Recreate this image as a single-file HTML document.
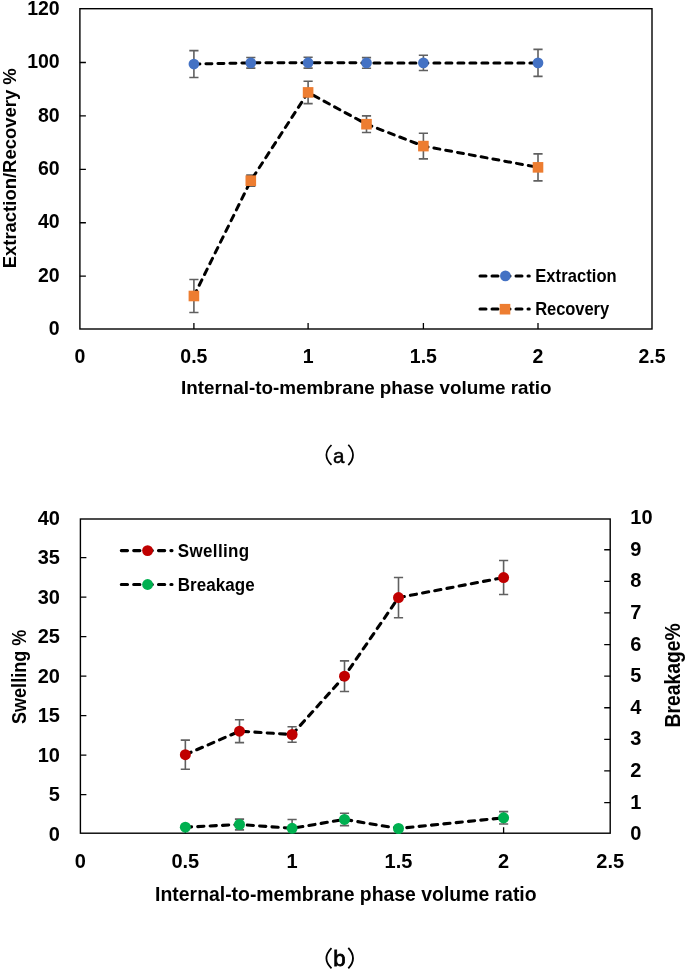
<!DOCTYPE html>
<html><head><meta charset="utf-8"><style>
html,body{margin:0;padding:0;background:#fff;}
svg{display:block;font-family:"Liberation Sans", sans-serif;will-change:transform;}
</style></head><body>
<svg width="685" height="969" viewBox="0 0 685 969">
<rect width="685" height="969" fill="#fff"/>
<rect x="79.9" y="8.7" width="572.1" height="320.3" fill="none" stroke="#000000" stroke-width="1.4"/>
<path d="M79.9,276.18 h6 M79.9,222.76 h6 M79.9,169.34 h6 M79.9,115.92 h6 M79.9,62.50 h6 M193.90,329.0 v-6 M308.10,329.0 v-6 M423.40,329.0 v-6 M538.00,329.0 v-6 " stroke="#000000" stroke-width="1.3" fill="none"/>
<text transform="translate(59.70,335.20)" font-size="19.5" font-weight="bold" text-anchor="end" fill="#000" >0</text>
<text transform="translate(59.70,281.78)" font-size="19.5" font-weight="bold" text-anchor="end" fill="#000" >20</text>
<text transform="translate(59.70,228.36)" font-size="19.5" font-weight="bold" text-anchor="end" fill="#000" >40</text>
<text transform="translate(59.70,174.94)" font-size="19.5" font-weight="bold" text-anchor="end" fill="#000" >60</text>
<text transform="translate(59.70,121.52)" font-size="19.5" font-weight="bold" text-anchor="end" fill="#000" >80</text>
<text transform="translate(59.70,68.10)" font-size="19.5" font-weight="bold" text-anchor="end" fill="#000" >100</text>
<text transform="translate(59.70,14.68)" font-size="19.5" font-weight="bold" text-anchor="end" fill="#000" >120</text>
<text transform="translate(79.90,363.20)" font-size="19.5" font-weight="bold" text-anchor="middle" fill="#000" >0</text>
<text transform="translate(193.90,363.20)" font-size="19.5" font-weight="bold" text-anchor="middle" fill="#000" >0.5</text>
<text transform="translate(308.10,363.20)" font-size="19.5" font-weight="bold" text-anchor="middle" fill="#000" >1</text>
<text transform="translate(423.40,363.20)" font-size="19.5" font-weight="bold" text-anchor="middle" fill="#000" >1.5</text>
<text transform="translate(538.00,363.20)" font-size="19.5" font-weight="bold" text-anchor="middle" fill="#000" >2</text>
<text transform="translate(652.00,363.20)" font-size="19.5" font-weight="bold" text-anchor="middle" fill="#000" >2.5</text>
<text transform="translate(181.00,394.30)" font-size="19" font-weight="bold" text-anchor="start" fill="#000" textLength="370.5" lengthAdjust="spacingAndGlyphs" >Internal-to-membrane phase volume ratio</text>
<text transform="translate(15.70,268.30) rotate(-90)" font-size="19" font-weight="bold" text-anchor="start" fill="#000" textLength="200" lengthAdjust="spacingAndGlyphs" >Extraction/Recovery %</text>
<path d="M193.90,50.60 V77.50 M189.30,50.60 h9.2 M189.30,77.50 h9.2" stroke="#606060" stroke-width="1.6" fill="none"/>
<path d="M250.80,57.55 V68.15 M246.20,57.55 h9.2 M246.20,68.15 h9.2" stroke="#606060" stroke-width="1.6" fill="none"/>
<path d="M308.10,57.30 V68.10 M303.50,57.30 h9.2 M303.50,68.10 h9.2" stroke="#606060" stroke-width="1.6" fill="none"/>
<path d="M366.50,57.60 V68.20 M361.90,57.60 h9.2 M361.90,68.20 h9.2" stroke="#606060" stroke-width="1.6" fill="none"/>
<path d="M423.40,55.30 V70.50 M418.80,55.30 h9.2 M418.80,70.50 h9.2" stroke="#606060" stroke-width="1.6" fill="none"/>
<path d="M538.00,49.40 V76.40 M533.40,49.40 h9.2 M533.40,76.40 h9.2" stroke="#606060" stroke-width="1.6" fill="none"/>
<path d="M193.90,279.50 V312.50 M189.30,279.50 h9.2 M189.30,312.50 h9.2" stroke="#606060" stroke-width="1.6" fill="none"/>
<path d="M250.80,175.10 V186.30 M246.20,175.10 h9.2 M246.20,186.30 h9.2" stroke="#606060" stroke-width="1.6" fill="none"/>
<path d="M308.10,81.20 V103.60 M303.50,81.20 h9.2 M303.50,103.60 h9.2" stroke="#606060" stroke-width="1.6" fill="none"/>
<path d="M366.50,115.90 V132.50 M361.90,115.90 h9.2 M361.90,132.50 h9.2" stroke="#606060" stroke-width="1.6" fill="none"/>
<path d="M423.40,133.30 V158.90 M418.80,133.30 h9.2 M418.80,158.90 h9.2" stroke="#606060" stroke-width="1.6" fill="none"/>
<path d="M538.00,153.85 V180.85 M533.40,153.85 h9.2 M533.40,180.85 h9.2" stroke="#606060" stroke-width="1.6" fill="none"/>
<path d="M193.90,64.05 L250.80,62.85 L308.10,62.70 L366.50,62.90 L423.40,62.90 L538.00,62.90" fill="none" stroke="#000" stroke-width="3" stroke-linecap="round" stroke-linejoin="round" stroke-dasharray="6 6"/>
<path d="M193.90,296.00 L250.80,180.70 L308.10,92.40 L366.50,124.20 L423.40,146.10 L538.00,167.35" fill="none" stroke="#000" stroke-width="3" stroke-linecap="round" stroke-linejoin="round" stroke-dasharray="6 6"/>
<circle cx="193.90" cy="64.05" r="5.35" fill="#4472C4"/>
<circle cx="250.80" cy="62.85" r="5.35" fill="#4472C4"/>
<circle cx="308.10" cy="62.70" r="5.35" fill="#4472C4"/>
<circle cx="366.50" cy="62.90" r="5.35" fill="#4472C4"/>
<circle cx="423.40" cy="62.90" r="5.35" fill="#4472C4"/>
<circle cx="538.00" cy="62.90" r="5.35" fill="#4472C4"/>
<rect x="188.60" y="290.70" width="10.6" height="10.6" fill="#ED7D31"/>
<rect x="245.50" y="175.40" width="10.6" height="10.6" fill="#ED7D31"/>
<rect x="302.80" y="87.10" width="10.6" height="10.6" fill="#ED7D31"/>
<rect x="361.20" y="118.90" width="10.6" height="10.6" fill="#ED7D31"/>
<rect x="418.10" y="140.80" width="10.6" height="10.6" fill="#ED7D31"/>
<rect x="532.70" y="162.05" width="10.6" height="10.6" fill="#ED7D31"/>
<path d="M480.00,275.90 L529.30,275.90" fill="none" stroke="#000" stroke-width="3" stroke-linecap="round" stroke-linejoin="round" stroke-dasharray="6 6"/>
<circle cx="505.40" cy="275.90" r="5.35" fill="#4472C4"/>
<path d="M480.00,309.00 L529.30,309.00" fill="none" stroke="#000" stroke-width="3" stroke-linecap="round" stroke-linejoin="round" stroke-dasharray="6 6"/>
<rect x="499.70" y="303.90" width="10.6" height="10.6" fill="#ED7D31"/>
<text transform="translate(535.20,282.00) scale(0.92,1)" font-size="18" font-weight="bold" text-anchor="start" fill="#000" textLength="88.59" lengthAdjust="spacing" >Extraction</text>
<text transform="translate(535.20,315.00) scale(0.92,1)" font-size="18" font-weight="bold" text-anchor="start" fill="#000" textLength="80.43" lengthAdjust="spacing" >Recovery</text>
<path d="M331.5,445 Q321.3,455 331.5,464.9 M348.3,444.7 Q357.7,455 348.3,465.2" fill="none" stroke="#000" stroke-width="1.7"/>
<text transform="translate(332.90,462.90)" font-size="20.6" font-weight="normal" text-anchor="start" fill="#000" stroke="#000" stroke-width="0.45">a</text>
<rect x="80.4" y="519.0" width="529.8000000000001" height="314.20000000000005" fill="none" stroke="#000000" stroke-width="1.4"/>
<path d="M80.4,794.68 h6 M80.4,755.15 h6 M80.4,715.62 h6 M80.4,676.10 h6 M80.4,636.58 h6 M80.4,597.05 h6 M80.4,557.53 h6 M610.2,802.55 h-6 M610.2,770.95 h-6 M610.2,739.35 h-6 M610.2,707.75 h-6 M610.2,676.15 h-6 M610.2,644.55 h-6 M610.2,612.95 h-6 M610.2,581.35 h-6 M610.2,549.75 h-6 M185.35,833.2 v-6 M292.10,833.2 v-6 M398.50,833.2 v-6 M503.60,833.2 v-6 " stroke="#000000" stroke-width="1.3" fill="none"/>
<text transform="translate(59.90,840.70)" font-size="20" font-weight="bold" text-anchor="end" fill="#000" >0</text>
<text transform="translate(59.90,801.18)" font-size="20" font-weight="bold" text-anchor="end" fill="#000" >5</text>
<text transform="translate(59.90,761.65)" font-size="20" font-weight="bold" text-anchor="end" fill="#000" >10</text>
<text transform="translate(59.90,722.12)" font-size="20" font-weight="bold" text-anchor="end" fill="#000" >15</text>
<text transform="translate(59.90,682.60)" font-size="20" font-weight="bold" text-anchor="end" fill="#000" >20</text>
<text transform="translate(59.90,643.08)" font-size="20" font-weight="bold" text-anchor="end" fill="#000" >25</text>
<text transform="translate(59.90,603.55)" font-size="20" font-weight="bold" text-anchor="end" fill="#000" >30</text>
<text transform="translate(59.90,564.03)" font-size="20" font-weight="bold" text-anchor="end" fill="#000" >35</text>
<text transform="translate(59.90,524.50)" font-size="20" font-weight="bold" text-anchor="end" fill="#000" >40</text>
<text transform="translate(630.30,840.25)" font-size="20" font-weight="bold" text-anchor="start" fill="#000" >0</text>
<text transform="translate(630.30,808.65)" font-size="20" font-weight="bold" text-anchor="start" fill="#000" >1</text>
<text transform="translate(630.30,777.05)" font-size="20" font-weight="bold" text-anchor="start" fill="#000" >2</text>
<text transform="translate(630.30,745.45)" font-size="20" font-weight="bold" text-anchor="start" fill="#000" >3</text>
<text transform="translate(630.30,713.85)" font-size="20" font-weight="bold" text-anchor="start" fill="#000" >4</text>
<text transform="translate(630.30,682.25)" font-size="20" font-weight="bold" text-anchor="start" fill="#000" >5</text>
<text transform="translate(630.30,650.65)" font-size="20" font-weight="bold" text-anchor="start" fill="#000" >6</text>
<text transform="translate(630.30,619.05)" font-size="20" font-weight="bold" text-anchor="start" fill="#000" >7</text>
<text transform="translate(630.30,587.45)" font-size="20" font-weight="bold" text-anchor="start" fill="#000" >8</text>
<text transform="translate(630.30,555.85)" font-size="20" font-weight="bold" text-anchor="start" fill="#000" >9</text>
<text transform="translate(630.30,524.25)" font-size="20" font-weight="bold" text-anchor="start" fill="#000" >10</text>
<text transform="translate(80.40,868.40)" font-size="20" font-weight="bold" text-anchor="middle" fill="#000" >0</text>
<text transform="translate(185.35,868.40)" font-size="20" font-weight="bold" text-anchor="middle" fill="#000" >0.5</text>
<text transform="translate(292.10,868.40)" font-size="20" font-weight="bold" text-anchor="middle" fill="#000" >1</text>
<text transform="translate(398.50,868.40)" font-size="20" font-weight="bold" text-anchor="middle" fill="#000" >1.5</text>
<text transform="translate(503.60,868.40)" font-size="20" font-weight="bold" text-anchor="middle" fill="#000" >2</text>
<text transform="translate(610.20,868.40)" font-size="20" font-weight="bold" text-anchor="middle" fill="#000" >2.5</text>
<text transform="translate(155.10,900.80)" font-size="20" font-weight="bold" text-anchor="start" fill="#000" textLength="381.5" lengthAdjust="spacingAndGlyphs" >Internal-to-membrane phase volume ratio</text>
<text transform="translate(26.00,724.10) rotate(-90)" font-size="20" font-weight="bold" text-anchor="start" fill="#000" textLength="94.5" lengthAdjust="spacingAndGlyphs" >Swelling %</text>
<text transform="translate(680.30,727.40) rotate(-90)" font-size="21.5" font-weight="bold" text-anchor="start" fill="#000" textLength="104" lengthAdjust="spacingAndGlyphs" >Breakage%</text>
<path d="M185.35,740.15 V769.25 M180.75,740.15 h9.2 M180.75,769.25 h9.2" stroke="#606060" stroke-width="1.6" fill="none"/>
<path d="M239.50,719.80 V742.60 M234.90,719.80 h9.2 M234.90,742.60 h9.2" stroke="#606060" stroke-width="1.6" fill="none"/>
<path d="M292.10,726.70 V742.30 M287.50,726.70 h9.2 M287.50,742.30 h9.2" stroke="#606060" stroke-width="1.6" fill="none"/>
<path d="M344.50,660.85 V691.55 M339.90,660.85 h9.2 M339.90,691.55 h9.2" stroke="#606060" stroke-width="1.6" fill="none"/>
<path d="M398.50,577.50 V617.70 M393.90,577.50 h9.2 M393.90,617.70 h9.2" stroke="#606060" stroke-width="1.6" fill="none"/>
<path d="M503.60,560.55 V594.55 M499.00,560.55 h9.2 M499.00,594.55 h9.2" stroke="#606060" stroke-width="1.6" fill="none"/>
<clipPath id="cb"><rect x="80.4" y="519.0" width="529.8000000000001" height="314.20000000000005"/></clipPath><g clip-path="url(#cb)">
<path d="M239.50,819.10 V829.90 M234.90,819.10 h9.2 M234.90,829.90 h9.2" stroke="#606060" stroke-width="1.6" fill="none"/>
<path d="M292.10,819.50 V837.10 M287.50,819.50 h9.2 M287.50,837.10 h9.2" stroke="#606060" stroke-width="1.6" fill="none"/>
<path d="M344.50,813.20 V825.60 M339.90,813.20 h9.2 M339.90,825.60 h9.2" stroke="#606060" stroke-width="1.6" fill="none"/>
<path d="M503.60,811.60 V824.00 M499.00,811.60 h9.2 M499.00,824.00 h9.2" stroke="#606060" stroke-width="1.6" fill="none"/>
</g>
<path d="M185.35,754.70 L239.50,731.20 L292.10,734.50 L344.50,676.20 L398.50,597.60 L503.60,577.55" fill="none" stroke="#000" stroke-width="3.1" stroke-linecap="round" stroke-linejoin="round" stroke-dasharray="6.2 6.2"/>
<path d="M185.35,827.20 L239.50,824.50 L292.10,828.30 L344.50,819.40 L398.50,828.50 L503.60,817.80" fill="none" stroke="#000" stroke-width="3.1" stroke-linecap="round" stroke-linejoin="round" stroke-dasharray="6.2 6.2"/>
<circle cx="185.35" cy="754.70" r="5.5" fill="#C00000"/>
<circle cx="239.50" cy="731.20" r="5.5" fill="#C00000"/>
<circle cx="292.10" cy="734.50" r="5.5" fill="#C00000"/>
<circle cx="344.50" cy="676.20" r="5.5" fill="#C00000"/>
<circle cx="398.50" cy="597.60" r="5.5" fill="#C00000"/>
<circle cx="503.60" cy="577.55" r="5.5" fill="#C00000"/>
<circle cx="185.35" cy="827.20" r="5.5" fill="#00B050"/>
<circle cx="239.50" cy="824.50" r="5.5" fill="#00B050"/>
<circle cx="292.10" cy="828.30" r="5.5" fill="#00B050"/>
<circle cx="344.50" cy="819.40" r="5.5" fill="#00B050"/>
<circle cx="398.50" cy="828.50" r="5.5" fill="#00B050"/>
<circle cx="503.60" cy="817.80" r="5.5" fill="#00B050"/>
<path d="M121.30,550.60 L172.00,550.60" fill="none" stroke="#000" stroke-width="3.1" stroke-linecap="round" stroke-linejoin="round" stroke-dasharray="6.2 6.2"/>
<circle cx="147.60" cy="550.60" r="5.45" fill="#C00000"/>
<path d="M121.30,584.50 L172.00,584.50" fill="none" stroke="#000" stroke-width="3.1" stroke-linecap="round" stroke-linejoin="round" stroke-dasharray="6.2 6.2"/>
<circle cx="147.60" cy="584.50" r="5.45" fill="#00B050"/>
<text transform="translate(177.70,557.00) scale(0.92,1)" font-size="18.5" font-weight="bold" text-anchor="start" fill="#000" textLength="77.72" lengthAdjust="spacing" >Swelling</text>
<text transform="translate(177.70,590.70) scale(0.92,1)" font-size="18.5" font-weight="bold" text-anchor="start" fill="#000" textLength="83.70" lengthAdjust="spacing" >Breakage</text>
<path d="M331.5,948.1 Q321.3,958.4 331.5,968.3 M348.3,947.9 Q357.7,958.2 348.3,968.4" fill="none" stroke="#000" stroke-width="1.8"/>
<text transform="translate(333.20,966.30)" font-size="22.2" font-weight="normal" text-anchor="start" fill="#000" stroke="#000" stroke-width="0.8">b</text>
</svg>
</body></html>
